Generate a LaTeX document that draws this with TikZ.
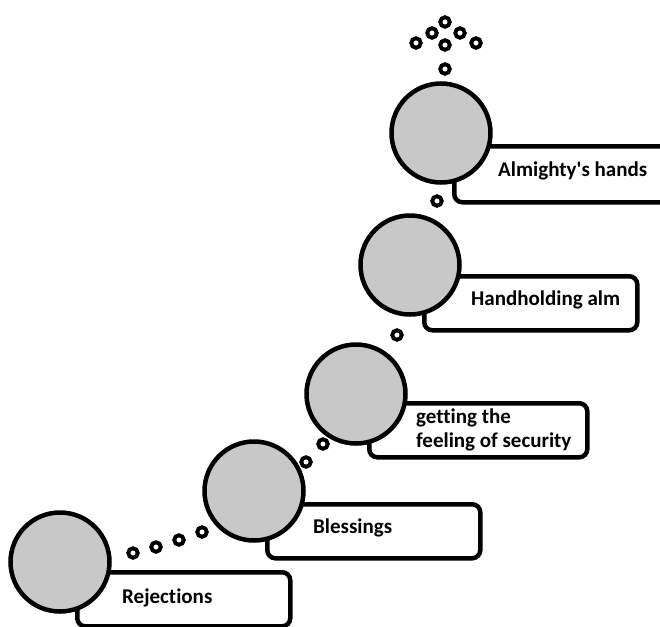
\documentclass[tikz,border=0pt]{standalone}
\usepackage{fontspec}
\newfontfamily\capfont[Ligatures={NoCommon}]{Carlito}
\definecolor{discgray}{RGB}{200,200,200}
\begin{document}
\begin{tikzpicture}[x=1pt,y=-1pt,
  disc/.style={circle,draw=black,fill=discgray,line width=4.5pt,minimum size=99pt,inner sep=0pt},
  panel/.style={rectangle,draw=black,fill=white,line width=4.5pt,rounded corners=8pt,
    anchor=north west,inner sep=0pt},
  caption/.style={anchor=west,inner sep=0pt,font=\capfont\fontsize{21}{24}\selectfont\bfseries,align=left},
  bead/.style={circle,draw=black,fill=white,line width=3.9pt,minimum size=9.5pt,inner sep=0pt}]
\clip (0,0) rectangle (660,626);
% panels behind the discs
\node[panel,minimum width=213pt,minimum height=54pt] (b1) at (75,570) {};
\node[panel,minimum width=213pt,minimum height=54pt] (b2) at (265,502) {};
\node[panel,minimum width=218pt,minimum height=54pt] (b3) at (367,401) {};
\node[panel,minimum width=213pt,minimum height=54pt] (b4) at (422,274) {};
\node[panel,minimum width=240pt,minimum height=56pt] (b5) at (452,144) {};
% discs
\node[disc] (c1) at (60,562) {};
\node[disc] (c2) at (254,491) {};
\node[disc] (c3) at (356,394) {};
\node[disc] (c4) at (410,265) {};
\node[disc] (c5) at (441,133) {};
% captions
\node[caption] (t1) at (122,598) {Rejections};
\node[caption] (t2) at (313,528) {Blessings};
\node[caption] (t3) at (416,430) {getting the\\feeling of security};
\node[caption] (t4) at (471,300) {Handholding alm};
\node[caption] (t5) at (498,171) {Almighty's hands};
% beads along the path
\node[bead] (d1) at (133,553) {};
\node[bead] (d2) at (156,547) {};
\node[bead] (d3) at (179,540) {};
\node[bead] (d4) at (202,532) {};
\node[bead] (d5) at (306,462) {};
\node[bead] (d6) at (323,444) {};
\node[bead] (d7) at (397,335) {};
\node[bead] (d8) at (437,201) {};
\node[bead] (d9) at (445,69) {};
% bead cluster on top
\node[bead] (e1) at (445,22) {};
\node[bead] (e2) at (432,33) {};
\node[bead] (e3) at (460,33) {};
\node[bead] (e4) at (416,43) {};
\node[bead] (e5) at (445,45) {};
\node[bead] (e6) at (476,43) {};
\end{tikzpicture}
\end{document}
